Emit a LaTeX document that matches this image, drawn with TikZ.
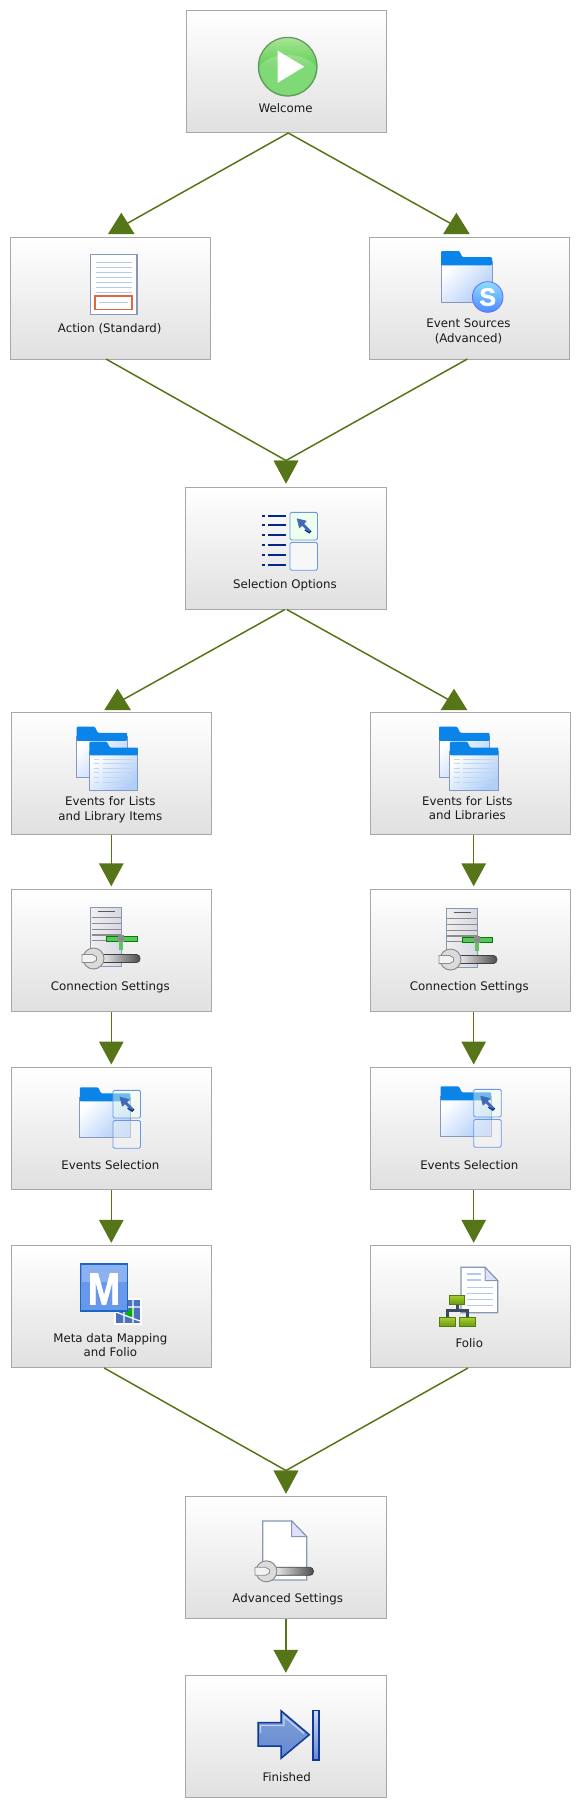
\documentclass[tikz,border=0pt]{standalone}
\usepackage{fontspec}
\setmainfont{DejaVu Sans}
\newfontfamily\iconfont[BoldFeatures={FakeBold=1.5}]{Liberation Sans}
\usetikzlibrary{arrows.meta,calc}
\definecolor{BoxLine}{RGB}{168,168,168}
\definecolor{BoxLow}{RGB}{224,224,224}
\definecolor{LinkCol}{RGB}{85,117,24}
\definecolor{FolderTop}{RGB}{10,132,232}
\definecolor{FolderEdge}{RGB}{136,152,184}
\definecolor{FolderPale}{RGB}{176,206,248}
\definecolor{DocEdge}{RGB}{136,152,180}
\definecolor{DocLine}{RGB}{176,204,236}
\definecolor{PickEdge}{RGB}{106,150,232}
\definecolor{NavyCol}{RGB}{0,40,136}
\definecolor{CursorCol}{RGB}{66,104,184}
\definecolor{SteelCol}{RGB}{140,140,140}
\definecolor{PipeCol}{RGB}{92,196,92}
\definecolor{MetaCol}{RGB}{104,152,236}
\definecolor{MetaEdge}{RGB}{24,104,192}
\definecolor{MapCol}{RGB}{74,112,192}
\definecolor{LeafLight}{RGB}{168,208,48}
\definecolor{LeafDark}{RGB}{104,150,16}
\definecolor{LeafEdge}{RGB}{84,124,10}
\definecolor{TreeCol}{RGB}{58,74,96}
\definecolor{ArrowBlue}{RGB}{60,108,196}
\definecolor{ArrowEdge}{RGB}{16,56,152}
\definecolor{GoLight}{RGB}{168,228,150}
\definecolor{GoFill}{RGB}{96,208,84}
\definecolor{GoEdge}{RGB}{96,150,96}
\definecolor{RedBox}{RGB}{224,104,64}
\tikzset{
  nd_box/.style={
    rectangle, draw=BoxLine, line width=1pt,
    top color=white, bottom color=BoxLow,
    inner sep=0pt, minimum width=200.5pt, minimum height=122pt},
  lbl/.style={
    font=\fontsize{11.8}{14.3}\selectfont,
    align=center, inner sep=0pt, text=black!90},
  arr/.style={
    draw=LinkCol, line width=1.5pt,
    -{Triangle[length=23pt,width=24.5pt,fill=LinkCol]}},
  arr_up/.style={
    draw=LinkCol, line width=1.5pt,
    -{Triangle[length=21.5pt,width=26.5pt,fill=LinkCol]}},
}
% icon parts, in pixels of the picture
\newcommand{\IconFolder}[2]{%
  \begin{scope}[shift={(#1)},scale=#2]
    \path[draw=FolderEdge,line width=1pt,top color=white,middle color=white,bottom color=FolderPale,shading angle=45]
      (0,10) rectangle (50,50);
    \fill[FolderTop,rounded corners=1pt] (0,14) -- (0,0) -- (18,0) -- (21,6) -- (50,6) -- (50,14) -- cycle;
  \end{scope}}
\newcommand{\IconCursor}[1]{%
  \begin{scope}[shift={(#1)}]
    \fill[CursorCol] (0,0) -- (10,2.5) -- (7.5,5.5) -- (14,12) -- (12,14) -- (5.5,7.5) -- (2.5,10) -- cycle;
    \draw[NavyCol,line width=1.2pt] (8,11.5) -- (12.5,14.5) -- (14.5,12.5);
  \end{scope}}
\newcommand{\IconPick}[2]{%
  \begin{scope}[shift={(#1)}]
    \draw[PickEdge,line width=.9pt,rounded corners=1.5pt,fill=green!7,fill opacity=#2] (0,0) rectangle (27.5,27.7);
    \draw[PickEdge,line width=.9pt,rounded corners=1.5pt,fill=white!97!black,fill opacity=#2] (0,30.2) rectangle (27.5,57.9);
  \end{scope}}
\newcommand{\IconWrench}[2]{%
  \begin{scope}[shift={(#1)}]
    \path[draw=black!75,line width=.8pt,left color=white,middle color=black!10,right color=black!70,rounded corners=3.5pt]
      (4,-4) rectangle (#2,4);
    \fill[black!14,draw=SteelCol,line width=1pt] (0,0) circle (10.5);
    \fill[black!5,draw=SteelCol,line width=.8pt] (-11.5,-4) -- (-1,-4) -- (3,-1.8) -- (3,1.8) -- (-1,4) -- (-11.5,4) -- cycle;
  \end{scope}}
\newcommand{\IconServer}[1]{%
  \begin{scope}[shift={(#1)}]
    \path[draw=DocEdge,line width=1.3pt,left color=black!6,right color=blue!30!black!16] (0,0) rectangle (31,59.5);
    \draw[black!65,line width=1pt] (7,4.5) -- (24,4.5);
    \foreach \yy in {10.4,16,22,27.7,33}
      \draw[SteelCol,line width=1.5pt] (.8,\yy) -- (30.2,\yy);
    \fill[PipeCol] (28.3,33) rectangle (32.3,43);
    \fill[PipeCol,draw=green!50!black,line width=.4pt] (15.3,29) rectangle (46,33.5);
    \fill[SteelCol] (27.3,28) rectangle (33.3,35);
  \end{scope}}
\begin{document}
\begin{tikzpicture}[x=1pt,y=-1pt]
\useasboundingbox (0,0) rectangle (577,1805);
% boxes
\node[nd_box] (wel) at (286.5,71.8) {};
\node[nd_box] (act) at (110.6,298) {};
\node[nd_box] (src) at (469.6,298) {};
\node[nd_box] (sel) at (285.8,548) {};
\node[nd_box] (lst_a) at (111.3,773) {};
\node[nd_box] (lst_b) at (470.3,773) {};
\node[nd_box] (con_a) at (111.3,950.3) {};
\node[nd_box] (con_b) at (470.3,950.3) {};
\node[nd_box] (evt_a) at (111.3,1128.5) {};
\node[nd_box] (evt_b) at (470.3,1128.5) {};
\node[nd_box] (map) at (111.3,1306.8) {};
\node[nd_box] (fol) at (470.3,1306.8) {};
\node[nd_box] (adv) at (285.8,1557.8) {};
\node[nd_box] (fin) at (285.8,1736.8) {};
% labels
\node[lbl] (wel_t) at (285.7,107.8) {Welcome};
\node[lbl] (act_t) at (109.7,329) {Action (Standard)};
\node[lbl] (src_t) at (468.5,331.5) {Event Sources\\(Advanced)};
\node[lbl] (sel_t) at (285,585.5) {Selection Options};
\node[lbl] (lst_a_t) at (110.4,809.8) {Events for Lists\\and Library Items};
\node[lbl] (lst_b_t) at (467.4,807.8) {Events for Lists\\and Libraries};
\node[lbl] (con_a_t) at (110.4,987) {Connection Settings};
\node[lbl] (con_b_t) at (469.3,987) {Connection Settings};
\node[lbl] (evt_a_t) at (110.4,1164.8) {Events Selection};
\node[lbl] (evt_b_t) at (469.3,1164.8) {Events Selection};
\node[lbl] (map_t) at (110.4,1344.8) {Meta data Mapping\\and Folio};
\node[lbl] (fol_t) at (469.3,1343) {Folio};
\node[lbl] (adv_t) at (287.7,1599.5) {Advanced Settings};
\node[lbl] (fin_t) at (286.7,1777) {Finished};
% where the links come out and go in
\coordinate (out_wel) at (288.3,133);
\coordinate (in_act) at (121.3,212.7);
\coordinate (in_src) at (456.4,212.7);
\coordinate (in_sel) at (286,483.5);
\coordinate (in_lst_a) at (117.6,688.7);
\coordinate (in_lst_b) at (454,688.7);
\coordinate (in_adv) at (286,1493.5);
\coordinate (out_act) at (106,359);
\coordinate (out_src) at (467.4,359);
\coordinate (out_map) at (104.2,1368);
\coordinate (out_fol) at (468,1368);
% links
\draw[arr_up] (out_wel) -- ([yshift=-14pt]in_act) -- (in_act);
\draw[arr_up] (out_wel) -- ([yshift=-14pt]in_src) -- (in_src);
\draw[arr] (out_act) -- ([yshift=23pt]in_sel) -- (in_sel);
\draw[arr] (out_src) -- ([yshift=23pt]in_sel) -- (in_sel);
\draw[arr_up] ([xshift=-1pt]sel.south) -- ([yshift=-14pt]in_lst_a) -- (in_lst_a);
\draw[arr_up] ([xshift=1pt]sel.south) -- ([yshift=-14pt]in_lst_b) -- (in_lst_b);
\draw[arr] (lst_a.south) -- ([yshift=2.5pt]con_a.north);
\draw[arr] ([xshift=3.4pt]lst_b.south) -- ([xshift=3.4pt,yshift=2.5pt]con_b.north);
\draw[arr] (con_a.south) -- ([yshift=2.5pt]evt_a.north);
\draw[arr] ([xshift=3.4pt]con_b.south) -- ([xshift=3.4pt,yshift=2.5pt]evt_b.north);
\draw[arr] (evt_a.south) -- ([yshift=2.5pt]map.north);
\draw[arr] ([xshift=3.4pt]evt_b.south) -- ([xshift=3.4pt,yshift=2.5pt]fol.north);
\draw[arr] (out_map) -- ([yshift=23pt]in_adv) -- (in_adv);
\draw[arr] (out_fol) -- ([yshift=23pt]in_adv) -- (in_adv);
\draw[arr] (adv.south) -- ([yshift=2.5pt]fin.north);
% Welcome icon
\path[draw=GoEdge,line width=1.2pt,top color=GoLight,bottom color=GoFill,middle color=GoFill] (287.7,66.7) circle (29.3);
\fill[white,opacity=.2] (259.5,66.7) arc[start angle=180,end angle=0,radius=28.2] .. controls (305,51) and (270,51) .. cycle;
\fill[white] (277.7,50.7) -- (304.3,66.7) -- (277.7,82.7) -- cycle;
% Action icon
\path[draw=DocEdge,line width=1.2pt,fill=white] (90.5,254.3) rectangle (137,314.3);
\foreach \yy in {262.3,267.3,...,292.3}
  \draw[DocLine,line width=1.4pt] (95.7,\yy) -- (131.8,\yy);
\draw[RedBox,line width=1.3pt,fill=white] (95,296) rectangle (132,309.5);
\draw[DocLine,line width=1.4pt] (99.4,302.5) -- (127.7,302.5);
% Event Sources icon
\IconFolder{441,251}{1.02}
\path[draw=blue!60!white,line width=.8pt,top color=blue!30!cyan!45!white,bottom color=blue!65!cyan!70!white] (487.7,297) circle (15.3);
\node[text=white,inner sep=0pt,font=\iconfont\bfseries\fontsize{25}{25}\selectfont] (src_s) at (487.7,297) {S};
% Selection Options icon
\foreach \yy in {515.7,524.7,534.7,544.7,554.7,564.7}{
  \fill[NavyCol] (262.3,\yy-1) rectangle (265,\yy+1);
  \fill[NavyCol] (268.3,\yy-1) rectangle (286,\yy+1);
}
\IconPick{290,512.3}{1}
\IconCursor{296.7,518.3}
% Events for Lists icons
\foreach \dx/\ox in {0/0,362.4/-2}{
  \begin{scope}[xshift=\dx pt]
    \IconFolder{76.6,726.7}{1.01}
    \IconFolder{\ox+89.4,741.7}{.97}
    \foreach \yy in {759,763.6,768.2,772.8,777.4,782}{
      \draw[DocLine!80!white,line width=1pt] (\ox+93.9,\yy) -- (\ox+99.4,\yy);
      \draw[DocLine!80!white,line width=1pt] (\ox+102.7,\yy) -- (\ox+133.2,\yy);
    }
  \end{scope}
}
% Connection Settings icons
\IconServer{90.7,907.3}
\IconWrench{93.5,958.5}{46.5}
\IconServer{446.5,908.3}
\IconWrench{450.5,959.5}{46.4}
% Events Selection icons
\foreach \dx/\dy in {0/0,360.7/-1}{
  \begin{scope}[xshift=\dx pt,yshift=-\dy pt]
    \IconFolder{79.9,1087.3}{1.01}
    \IconPick{113,1090.3}{.45}
    \IconCursor{119.6,1096.7}
  \end{scope}
}
% Meta data icon
\fill[white] (114.3,1297.7) rectangle (141.7,1325);
\fill[MapCol] (116,1299.5) rectangle (140,1323);
\fill[green!70!black] (124,1316) -- (133,1306) -- (133,1318) -- cycle;
\draw[white,line width=1.2pt] (116,1307) -- (140,1307) (116,1312) -- (140,1321) (124,1299.5) -- (124,1323) (133,1299.5) -- (133,1323);
\path[draw=MetaEdge,line width=1.5pt,fill=MetaCol] (80.7,1264) rectangle (127.6,1311);
\fill[white,opacity=.25] (81.5,1264.8) rectangle (126.8,1281.7);
\node[text=white,inner sep=0pt,transform shape,xscale=.86,font=\iconfont\bfseries\fontsize{45}{45}\selectfont] (map_m) at (104,1289) {M};
% Folio icon
\path[draw=DocEdge,line width=1.3pt,fill=white] (461,1267.3) -- (485,1267.3) -- (497.7,1280.7) -- (497.7,1312.7) -- (461,1312.7) -- cycle;
\path[draw=DocEdge,line width=1pt,fill=blue!12] (485,1267.3) -- (497.7,1280.7) -- (485,1280.7) -- cycle;
\foreach \yy in {1274,1280}
  \draw[DocLine,line width=1.4pt] (467.3,\yy) -- (481,\yy);
\foreach \yy in {1287.3,1293.3,1299.3,1305.7}
  \draw[DocLine,line width=1.4pt] (467.3,\yy) -- (493.3,\yy);
\draw[TreeCol,line width=3pt] (457,1305) -- (457,1310) (447,1317) -- (447,1310) -- (467,1310) -- (467,1317);
\foreach \bx/\by in {449/1295,439.3/1317.3,459.3/1317.3}
  \path[draw=LeafEdge,line width=.9pt,top color=LeafLight,bottom color=LeafDark] (\bx,\by) rectangle ++(15.7,9.6);
% Advanced Settings icon
\path[draw=DocEdge,line width=1.3pt,fill=white] (262.7,1521) -- (291.7,1521) -- (306.7,1536.7) -- (306.7,1580) -- (262.7,1580) -- cycle;
\path[draw=DocEdge,line width=1pt,fill=blue!12] (291.7,1521) -- (306.7,1536.7) -- (291.7,1536.7) -- cycle;
\IconWrench{266.4,1571.3}{47}
% Finished icon
\path[draw=ArrowEdge,line width=1.5pt,top color=ArrowBlue!65!white,middle color=ArrowBlue,bottom color=ArrowBlue!80!white] (258,1722.7) -- (281,1722.7) -- (281,1710.7) -- (309.3,1734.7) -- (281,1758.3) -- (281,1746) -- (258,1746) -- cycle;
\draw[white,opacity=.55,line width=1.4pt] (260.5,1733) -- (260.5,1725.5) -- (284,1725.5) -- (284,1716.5) -- (304,1733.5);
\path[draw=ArrowEdge,line width=1.5pt,top color=ArrowBlue!25!white,middle color=ArrowBlue,bottom color=ArrowBlue!80!white] (312.8,1710.5) rectangle (319.2,1760.2);
\end{tikzpicture}
\end{document}
